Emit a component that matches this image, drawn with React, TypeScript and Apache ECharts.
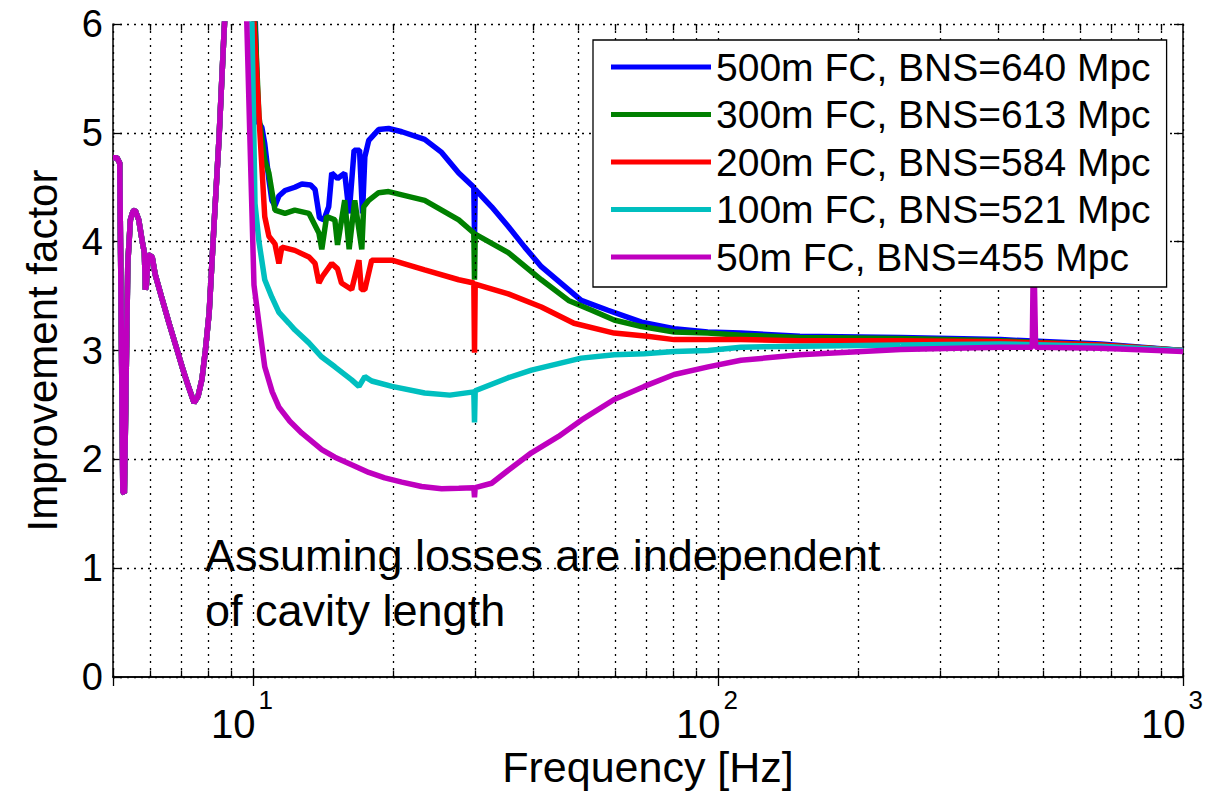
import React, { useEffect, useRef } from "react";
import * as echarts from "echarts";

const FONT = "'Liberation Sans', Arial, Helvetica, sans-serif";

const SERIES_NAMES = [
  "500m FC, BNS=640 Mpc",
  "300m FC, BNS=613 Mpc",
  "200m FC, BNS=584 Mpc",
  "100m FC, BNS=521 Mpc",
  "50m FC, BNS=455 Mpc",
];
const SERIES_COLORS = ["#0000ff", "#008000", "#ff0000", "#00bfbf", "#bf00bf"];

// Common low-frequency part (all five curves coincide below ~9 Hz)
const LOW_FREQ = [5.0, 5.1, 5.17, 5.21, 5.25, 5.29, 5.33, 5.38, 5.45, 5.52, 5.58, 5.68, 5.78, 5.84, 5.87, 5.9, 5.95, 6.07, 6.16, 6.35, 6.6, 6.85, 7.04, 7.25, 7.47, 7.62, 7.77, 7.9, 8.05, 8.25, 8.45, 8.66, 8.9, 9.2];
const LOW_VAL = [4.77, 4.77, 4.72, 3.2, 1.7, 1.69, 2.6, 3.8, 4.2, 4.28, 4.29, 4.2, 4.0, 3.9, 3.56, 3.6, 3.88, 3.86, 3.7, 3.5, 3.25, 3.02, 2.85, 2.68, 2.52, 2.58, 2.74, 3.0, 3.35, 4.17, 4.94, 5.9, 6.9, 7.5];

// 500m FC
const FC500_FREQ = [9.9, 10.12, 10.25, 10.45, 10.6, 10.82, 10.98, 11.15, 11.37, 11.72, 12.3, 12.74, 13.3, 13.6, 13.9, 14.2, 14.55, 14.77, 15.2, 15.75, 16.1, 16.5, 16.95, 17.2, 17.4, 17.74, 18.63, 19.57, 20.9, 23.4, 25.45, 27.7, 29.85, 29.95, 30.05, 32.6, 35.4, 38.4, 41.7, 50.8, 58, 68.5, 80.5, 95, 112, 150, 247, 405, 664, 1000];
const FC500_VAL = [7.2, 6.0, 5.1, 5.05, 4.9, 4.57, 4.38, 4.33, 4.42, 4.47, 4.5, 4.53, 4.52, 4.48, 4.22, 4.2, 4.32, 4.63, 4.58, 4.63, 4.26, 4.84, 4.84, 4.26, 4.78, 4.93, 5.03, 5.04, 5.01, 4.94, 4.82, 4.63, 4.5, 4.04, 4.48, 4.32, 4.14, 3.95, 3.77, 3.46, 3.37, 3.26, 3.2, 3.17, 3.16, 3.13, 3.12, 3.1, 3.06, 3.0];

// 300m FC
const FC300_FREQ = [9.85, 10.1, 10.3, 10.6, 10.82, 11.15, 11.72, 12.3, 13.19, 13.86, 14.06, 14.4, 15.0, 15.2, 15.75, 16.1, 16.55, 17.14, 17.3, 17.74, 18.63, 19.57, 23.4, 27.7, 29.85, 29.95, 30.05, 35.4, 41.7, 47.7, 53.5, 59.8, 68.5, 80.5, 95, 112, 150, 247, 405, 664, 1000];
const FC300_VAL = [7.2, 6.0, 5.15, 4.75, 4.63, 4.29, 4.26, 4.29, 4.26, 4.08, 3.93, 4.23, 4.2, 3.97, 4.38, 3.93, 4.38, 3.93, 4.32, 4.38, 4.45, 4.46, 4.38, 4.2, 4.08, 3.65, 4.07, 3.9, 3.65, 3.46, 3.37, 3.28, 3.22, 3.17, 3.16, 3.14, 3.12, 3.11, 3.09, 3.05, 3.0];

// 200m FC
const FC200_FREQ = [9.8, 10.05, 10.3, 10.45, 10.6, 10.82, 11.15, 11.37, 11.54, 12.3, 13.19, 13.6, 13.86, 14.1, 14.77, 15.2, 15.5, 16.3, 16.9, 17.1, 17.4, 18.0, 19.9, 23.4, 27.7, 29.85, 29.95, 30.05, 35.4, 41.7, 49, 59.8, 70.5, 80.5, 112, 150, 247, 405, 664, 1000];
const FC200_VAL = [7.2, 6.0, 5.15, 4.69, 4.23, 4.05, 3.98, 3.8, 3.95, 3.92, 3.86, 3.8, 3.62, 3.68, 3.8, 3.75, 3.62, 3.56, 3.83, 3.56, 3.56, 3.83, 3.83, 3.74, 3.65, 3.62, 2.98, 3.61, 3.52, 3.4, 3.25, 3.16, 3.13, 3.1, 3.1, 3.09, 3.09, 3.08, 3.05, 3.0];

// 100m FC
const FC100_FREQ = [9.6, 9.95, 10.1, 10.3, 10.6, 10.98, 11.37, 11.95, 12.3, 13.19, 14.06, 15.0, 16.3, 16.9, 17.4, 18.0, 19.9, 23.4, 26.5, 29.85, 29.95, 30.05, 35.4, 39.7, 45.4, 50.8, 59.8, 69.4, 80.5, 95.2, 112, 150, 247, 405, 664, 1000];
const FC100_VAL = [7.2, 6.0, 4.35, 4.0, 3.65, 3.49, 3.35, 3.25, 3.19, 3.07, 2.94, 2.85, 2.73, 2.67, 2.76, 2.72, 2.67, 2.61, 2.59, 2.62, 2.34, 2.63, 2.75, 2.82, 2.88, 2.93, 2.96, 2.97, 2.99, 3.0, 3.03, 3.04, 3.05, 3.06, 3.04, 3.0];

// 50m FC
const FC50_FREQ = [9.5, 9.7, 9.85, 10.05, 10.3, 10.6, 11.0, 11.37, 12.0, 12.74, 14.06, 15.0, 16.3, 17.74, 19.2, 20.9, 23.05, 25.45, 27.7, 29.85, 29.95, 30.05, 32.6, 35.4, 39.7, 45.4, 50.8, 59.8, 69.4, 80.5, 95.2, 112, 150, 247, 405, 474, 476, 479, 482, 664, 1000];
const FC50_VAL = [7.0, 6.0, 4.94, 3.6, 3.25, 2.85, 2.62, 2.48, 2.35, 2.24, 2.09, 2.02, 1.95, 1.88, 1.83, 1.79, 1.75, 1.73, 1.735, 1.74, 1.65, 1.74, 1.78, 1.9, 2.06, 2.21, 2.36, 2.55, 2.67, 2.78, 2.85, 2.91, 2.96, 3.01, 3.03, 3.03, 3.65, 3.65, 3.03, 3.02, 2.99];

const SERIES_FREQ = [FC500_FREQ, FC300_FREQ, FC200_FREQ, FC100_FREQ, FC50_FREQ];
const SERIES_VAL = [FC500_VAL, FC300_VAL, FC200_VAL, FC100_VAL, FC50_VAL];

// Axis setup
const X_MIN = 5;
const X_MAX = 1000;
const Y_MIN = 0;
const Y_MAX = 6;
const Y_STEP = 1;
const MINOR_X = [6, 7, 8, 9, 20, 30, 40, 50, 60, 70, 80, 90, 200, 300, 400, 500, 600, 700, 800, 900];

const ANNOTATION = "Assuming losses are independent\nof cavity length";
const X_NAME = "Frequency [Hz]";
const Y_NAME = "Improvement factor";

function pairs(f: number[], v: number[]) {
  return f.map((x, i) => [x, v[i]]);
}

function powLabel(v: number) {
  const e = Math.log10(v);
  const r = Math.round(e);
  if (Math.abs(e - r) > 1e-6) return "";
  return `{b|10}{s|${r}}`;
}

export default function App() {
  const ref = useRef<HTMLDivElement>(null);

  useEffect(() => {
    if (!ref.current) return;
    const chart = echarts.init(ref.current, undefined, { renderer: "svg" });

    const AXIS_LINE = { show: true, lineStyle: { color: "#000", width: 1.5 } };
    const AXIS_TICK = { show: true, inside: true, length: 9, lineStyle: { color: "#000", width: 1.3 } };
    const GRID_DOT = { color: "#000", type: [2, 5] as any, width: 1.3 };
    const TICK_LEN = 0.06;

    const curves = SERIES_NAMES.map((name, i) => ({
      type: "line",
      name,
      data: pairs([...LOW_FREQ, ...SERIES_FREQ[i]], [...LOW_VAL, ...SERIES_VAL[i]]),
      showSymbol: false,
      symbol: "none",
      clip: true,
      z: 3 + i,
      silent: true,
      lineStyle: { color: SERIES_COLORS[i], width: 5.5 },
      itemStyle: { color: SERIES_COLORS[i] },
      emphasis: { disabled: true },
    }));

    const option: any = {
      animation: false,
      backgroundColor: "#fff",
      textStyle: { fontFamily: FONT },
      grid: {
        left: 113,
        top: 24,
        width: 1070,
        height: 653,
        show: false,
        containLabel: false,
        outerBoundsMode: "none",
      },
      legend: {
        data: SERIES_NAMES,
        orient: "vertical",
        left: 593,
        top: 40,
        icon: "rect",
        itemWidth: 100,
        itemHeight: 5,
        itemGap: 7.5,
        padding: [7, 16, 10, 18],
        borderColor: "#000",
        borderWidth: 1.3,
        backgroundColor: "#fff",
        selectedMode: false,
        textStyle: { fontSize: 39, color: "#000", fontFamily: FONT, lineHeight: 40 },
        z: 10,
      },
      xAxis: [
        {
          type: "log",
          logBase: 10,
          min: X_MIN,
          max: X_MAX,
          position: "bottom",
          name: X_NAME,
          nameLocation: "middle",
          nameGap: 68,
          nameMoveOverlap: false,
          nameTextStyle: { fontSize: 43, color: "#000", fontFamily: FONT },
          axisLine: AXIS_LINE,
          axisTick: AXIS_TICK,
          splitLine: { show: true, lineStyle: GRID_DOT },
          axisLabel: {
            margin: 10,
            formatter: powLabel,
            rich: {
              b: { fontSize: 40, fontFamily: FONT, color: "#000", verticalAlign: "bottom", lineHeight: 57 },
              s: { fontSize: 26, fontFamily: FONT, color: "#000", verticalAlign: "top", lineHeight: 26, padding: [0, 22, 0, 3] },
            },
          },
        },
        {
          type: "log",
          logBase: 10,
          min: X_MIN,
          max: X_MAX,
          position: "top",
          axisLine: AXIS_LINE,
          axisTick: AXIS_TICK,
          axisLabel: { show: false },
          splitLine: { show: false },
        },
      ],
      yAxis: [
        {
          type: "value",
          min: Y_MIN,
          max: Y_MAX,
          interval: Y_STEP,
          position: "left",
          name: Y_NAME,
          nameLocation: "middle",
          nameRotate: 90,
          nameGap: 50,
          nameMoveOverlap: false,
          nameTextStyle: { fontSize: 42, color: "#000", fontFamily: FONT },
          axisLine: AXIS_LINE,
          axisTick: AXIS_TICK,
          splitLine: { show: true, lineStyle: GRID_DOT },
          axisLabel: { fontSize: 38, color: "#000", fontFamily: FONT, margin: 10 },
        },
        {
          type: "value",
          min: Y_MIN,
          max: Y_MAX,
          interval: Y_STEP,
          position: "right",
          axisLine: AXIS_LINE,
          axisTick: AXIS_TICK,
          axisLabel: { show: false },
          splitLine: { show: false },
        },
      ],
      graphic: [
        {
          type: "text",
          left: 205,
          top: 528,
          z: 20,
          style: { text: ANNOTATION, fontSize: 45, fontFamily: FONT, fill: "#000", lineHeight: 55 },
        },
      ],
      series: [
        {
          type: "line",
          name: "minor-grid",
          data: [[X_MIN, Y_MIN]],
          showSymbol: false,
          symbol: "none",
          silent: true,
          z: 1,
          lineStyle: { opacity: 0 },
          markLine: {
            silent: true,
            symbol: ["none", "none"],
            label: { show: false },
            lineStyle: GRID_DOT,
            animation: false,
            data: MINOR_X.map((f) => ({ xAxis: f })),
          },
        },
        {
          type: "line",
          name: "minor-ticks",
          data: [[X_MIN, Y_MIN]],
          showSymbol: false,
          symbol: "none",
          silent: true,
          z: 2,
          lineStyle: { opacity: 0 },
          markLine: {
            silent: true,
            symbol: ["none", "none"],
            label: { show: false },
            lineStyle: { color: "#000", type: "solid", width: 1.3 },
            animation: false,
            data: MINOR_X.flatMap((f) => [
              [{ coord: [f, Y_MIN] }, { coord: [f, Y_MIN + TICK_LEN] }],
              [{ coord: [f, Y_MAX - TICK_LEN] }, { coord: [f, Y_MAX] }],
            ]),
          },
        },
        ...curves,
      ],
    };

    chart.setOption(option);
    return () => chart.dispose();
  }, []);

  return (
    <div
      ref={ref}
      style={{ position: "absolute", left: 0, top: 0, width: 1227, height: 796, background: "#fff" }}
    />
  );
}
